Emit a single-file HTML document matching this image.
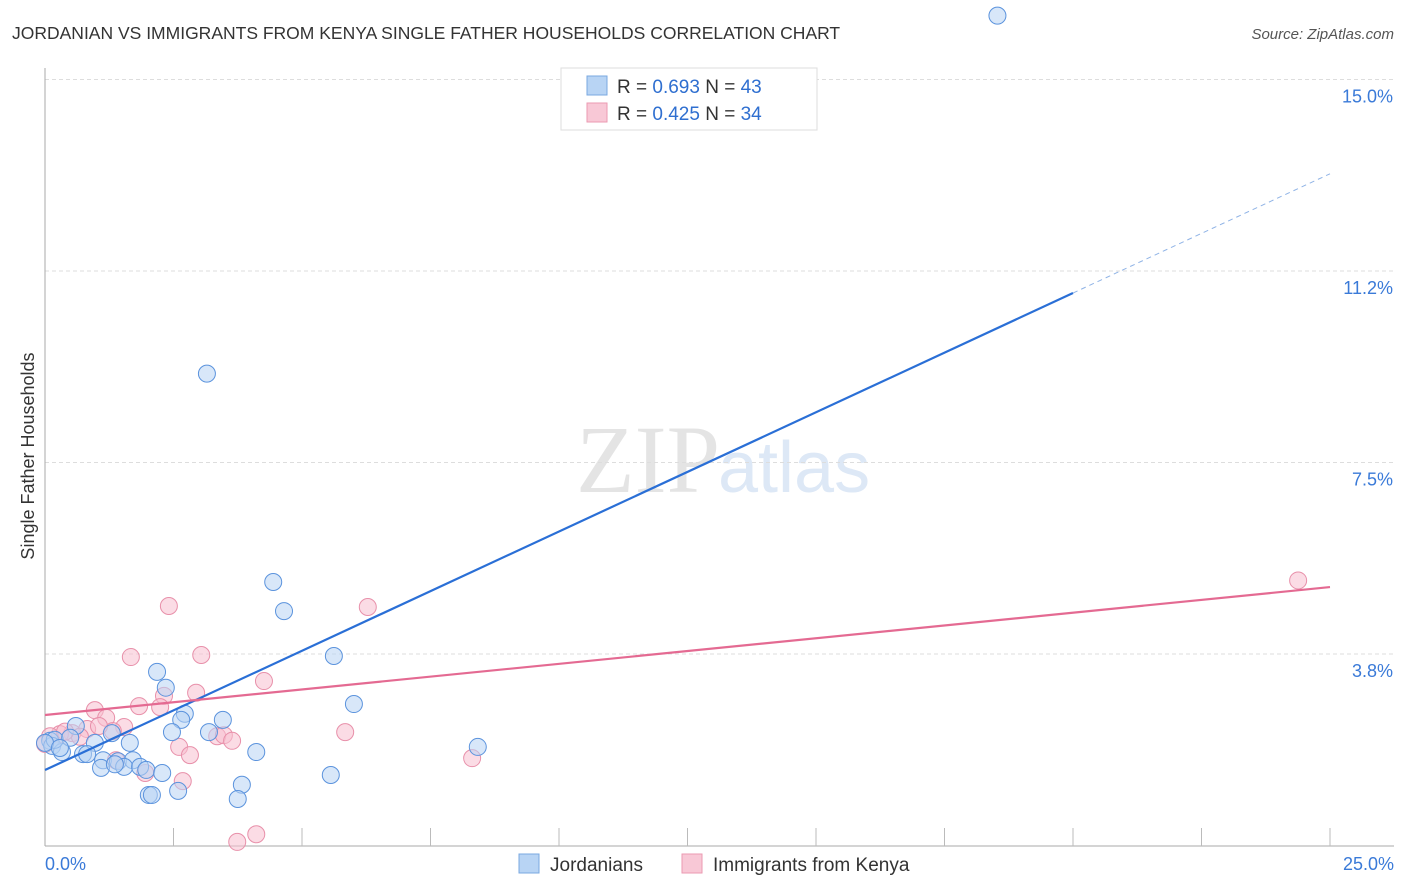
<!DOCTYPE html>
<html><head><meta charset="utf-8"><style>
body{margin:0;background:#fff;font-family:"Liberation Sans",sans-serif;}
#wrap{position:relative;width:1406px;height:892px;overflow:hidden}
</style></head><body>
<div id="wrap">
<svg id="svg" width="1406" height="892" xmlns="http://www.w3.org/2000/svg">
<text x="12" y="39" font-size="17.5" fill="#333">JORDANIAN VS IMMIGRANTS FROM KENYA SINGLE FATHER HOUSEHOLDS CORRELATION CHART</text>
<text x="1394" y="39" font-size="15" fill="#555" font-style="italic" text-anchor="end">Source: ZipAtlas.com</text>
<text x="720" y="492" font-size="96" fill="#e4e4e4" text-anchor="end" font-family="Liberation Serif">ZIP</text>
<text x="718" y="492" font-size="72" fill="#dde8f6">atlas</text>
<text transform="translate(34,456) rotate(-90)" font-size="18" fill="#333" text-anchor="middle">Single Father Households</text>
<g id="grid"></g><g id="pts"></g><g id="lines"></g>
<g>
<rect x="561" y="68" width="256" height="62" fill="#fff" stroke="#ddd"/>
<rect x="587" y="76" width="20" height="19" fill="#b8d4f4" stroke="#7aa8e0"/>
<rect x="587" y="103" width="20" height="19" fill="#f8c8d6" stroke="#eb9ab2"/>
<text x="617" y="93" font-size="19" fill="#333">R = <tspan fill="#2f6fd0">0.693</tspan>   N = <tspan fill="#2f6fd0">43</tspan></text>
<text x="617" y="120" font-size="19" fill="#333">R = <tspan fill="#2f6fd0">0.425</tspan>   N = <tspan fill="#2f6fd0">34</tspan></text>
</g>
<g>
<rect x="519" y="854" width="20" height="19" fill="#b8d4f4" stroke="#7aa8e0"/>
<text x="550" y="871" font-size="19" fill="#333">Jordanians</text>
<rect x="682" y="854" width="20" height="19" fill="#f8c8d6" stroke="#eb9ab2"/>
<text x="713" y="871" font-size="19" fill="#333">Immigrants from Kenya</text>
</g>
</svg></div>
<script>
const yTicks=[3.75,7.5,11.25,15];
const yTickLabels=["3.8%","7.5%","11.2%","15.0%"];
const xTickLabels=["0.0%","25.0%"];
const blueX=[18.53,3.15,4.44,4.65,5.62,2.18,2.35,6.01,2.72,2.65,3.46,3.19,2.47,8.42,1.65,0.97,0.60,0.10,0.14,0.33,0.74,0.82,1.30,1.13,1.42,1.71,1.09,1.54,1.85,1.97,2.28,4.11,5.56,3.83,2.59,2.02,2.08,3.75,0.19,0.49,0.00,0.29,1.36];
const blueY=[12.50,5.49,1.41,0.84,-0.04,-0.35,-0.66,-0.98,-1.17,-1.29,-1.29,-1.53,-1.53,-1.82,-1.74,-1.74,-1.41,-1.70,-1.80,-1.92,-1.96,-1.96,-1.55,-2.08,-2.10,-2.08,-2.23,-2.21,-2.21,-2.27,-2.33,-1.92,-2.37,-2.56,-2.68,-2.76,-2.76,-2.84,-1.68,-1.64,-1.74,-1.84,-2.16];
const pinkX=[24.38,2.41,6.28,1.67,3.04,4.26,2.315,2.94,0.97,1.83,2.24,1.19,1.54,3.35,3.48,3.64,5.84,1.32,0.82,1.05,0.53,0.29,0.10,0.00,2.61,2.82,8.31,1.38,1.95,2.68,3.74,4.11,0.68,0.39];
const pinkY=[1.44,0.94,0.92,-0.06,-0.02,-0.53,-0.82,-0.76,-1.10,-1.02,-1.04,-1.25,-1.43,-1.61,-1.59,-1.70,-1.53,-1.51,-1.47,-1.41,-1.55,-1.57,-1.61,-1.76,-1.82,-1.98,-2.04,-2.08,-2.33,-2.49,-3.68,-3.53,-1.62,-1.52];
// y arrays above are offsets from 3.75 (%)
const blueFit=[1.478,0.467];
const pinkFit=[2.555,0.1002];
const xs=v=>45+v*51.4, ys=v=>845.5-v*51.07;
const NS="http://www.w3.org/2000/svg";
function mk(t,a,p){const e=document.createElementNS(NS,t);for(const k in a)e.setAttribute(k,a[k]);p.appendChild(e);return e;}
const grid=document.getElementById('grid'),pts=document.getElementById('pts'),lines=document.getElementById('lines');
yTicks.forEach((v,i)=>{
 const l=mk('line',{x1:45,x2:1394,y1:ys(v),y2:ys(v),stroke:'#ddd','stroke-dasharray':'4,3'},grid);
 
 
 const t=mk('text',{x:1393,y:ys(v)+23,'font-size':18,fill:'#3a7ad8','text-anchor':'end'},grid);
 t.textContent=yTickLabels[i];
 
 
});
const ax=mk('line',{x1:45,x2:45,y1:68,y2:846,stroke:'#aaa'},grid);


const bx=mk('line',{x1:45,x2:1394,y1:846,y2:846,stroke:'#aaa'},grid);


for(let i=1;i<=10;i++){const tk=mk('line',{x1:xs(i*2.5),x2:xs(i*2.5),y1:828,y2:846,stroke:'#bbb'},grid);
 
 }
[[0,'start',45],[25,'end',1394]].forEach((d,i)=>{const t=mk('text',{x:d[2],y:870,'font-size':18,fill:'#3a7ad8','text-anchor':d[1]},grid);t.textContent=xTickLabels[i];
 
 });
function dots(X,Y,fill,stroke,name){X.forEach((x,i)=>{const c=mk('circle',{cx:xs(x),cy:ys(Y[i]+3.75),r:8.5,fill:fill,stroke:stroke,'fill-opacity':0.55,'stroke-width':1},pts);
 
 });}
dots(pinkX,pinkY,'#f8c0d0','#e890aa','kenya-point');
dots(blueX,blueY,'#b8d4f4','#5b93dd','jordanian-point');
const b1=mk('line',{x1:xs(0),y1:ys(blueFit[0]),x2:xs(20),y2:ys(blueFit[0]+20*blueFit[1]),stroke:'#2a6fd6','stroke-width':2.2},lines);


const b2=mk('line',{x1:xs(20),y1:ys(blueFit[0]+20*blueFit[1]),x2:xs(25),y2:ys(blueFit[0]+25*blueFit[1]),stroke:'#8fb3e6','stroke-width':1,'stroke-dasharray':'5,4'},lines);


const p1=mk('line',{x1:xs(0),y1:ys(pinkFit[0]),x2:xs(25),y2:ys(pinkFit[0]+25*pinkFit[1]),stroke:'#e46a92','stroke-width':2.2},lines);


</script>
</body></html>
